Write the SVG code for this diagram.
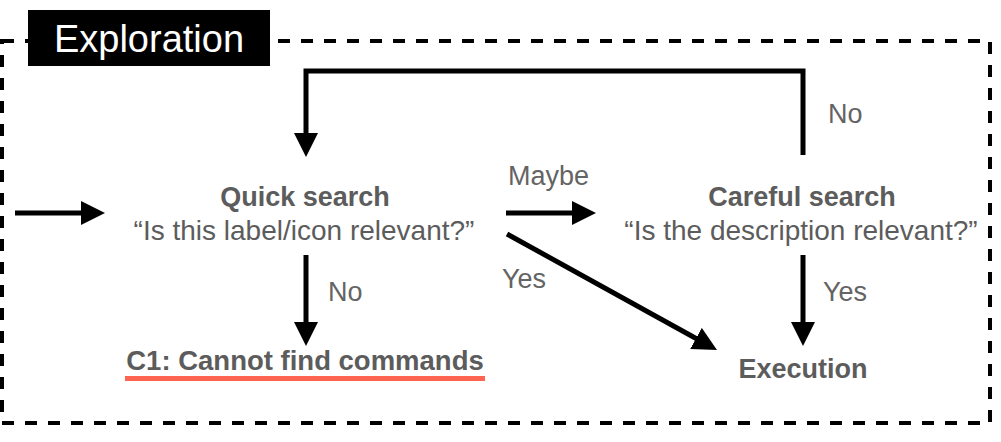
<svg xmlns="http://www.w3.org/2000/svg" width="1001" height="442" viewBox="0 0 1001 442">
<style>
text{font-family:"Liberation Sans",Arial,Helvetica,sans-serif;font-size:27px;fill:#5c5c5c}
.b{font-weight:bold}
.r{font-size:28px}
.lbl{fill:#646464}
.c{text-anchor:middle}
.ln{stroke:#000;stroke-width:5;fill:none}
</style>
<defs>
<marker id="ah" markerUnits="userSpaceOnUse" markerWidth="24" markerHeight="24" refX="12" refY="12" orient="auto" viewBox="0 0 24 24">
<path d="M0,0 L24,12 L0,24 Z" fill="#000"/>
</marker>
</defs>
<g id="frame">
<rect x="2" y="41" width="988" height="382" fill="none" stroke="#000" stroke-width="4" stroke-dasharray="12 11"/>
<rect x="28" y="10" width="242" height="56" fill="#000"/>
<text x="149" y="52" class="c" style="fill:#fff;font-size:38px">Exploration</text>
</g>
<g id="connectors">
<line class="ln" x1="15" y1="213" x2="93" y2="213" marker-end="url(#ah)"/>
<polyline class="ln" points="803,155 803,71 306,71 306,145" marker-end="url(#ah)"/>
<line class="ln" x1="506" y1="213" x2="584" y2="213" marker-end="url(#ah)"/>
<line class="ln" x1="507" y1="234" x2="706.5" y2="344.2" marker-end="url(#ah)"/>
<line class="ln" x1="306" y1="255" x2="306" y2="334" marker-end="url(#ah)"/>
<line class="ln" x1="803" y1="255" x2="803" y2="334" marker-end="url(#ah)"/>
<text class="lbl" x="828" y="123">No</text>
<text class="lbl" x="508" y="185">Maybe</text>
<text class="lbl" x="502" y="288">Yes</text>
<text class="lbl" x="328" y="301">No</text>
<text class="lbl" x="823" y="301">Yes</text>
</g>
<g id="quick-search">
<text x="305" y="206" class="b c">Quick search</text>
<text x="304" y="240" class="c r">“Is this label/icon relevant?”</text>
</g>
<g id="careful-search">
<text x="802" y="206" class="b c">Careful search</text>
<text x="801" y="240" class="c r">“Is the description relevant?”</text>
</g>
<g id="c1">
<text x="305" y="370" class="b c" style="font-size:27.5px">C1: Cannot find commands</text>
<rect x="125" y="376" width="360" height="5" fill="#ff6450"/>
</g>
<g id="execution">
<text x="803" y="378" class="b c">Execution</text>
</g>
</svg>
